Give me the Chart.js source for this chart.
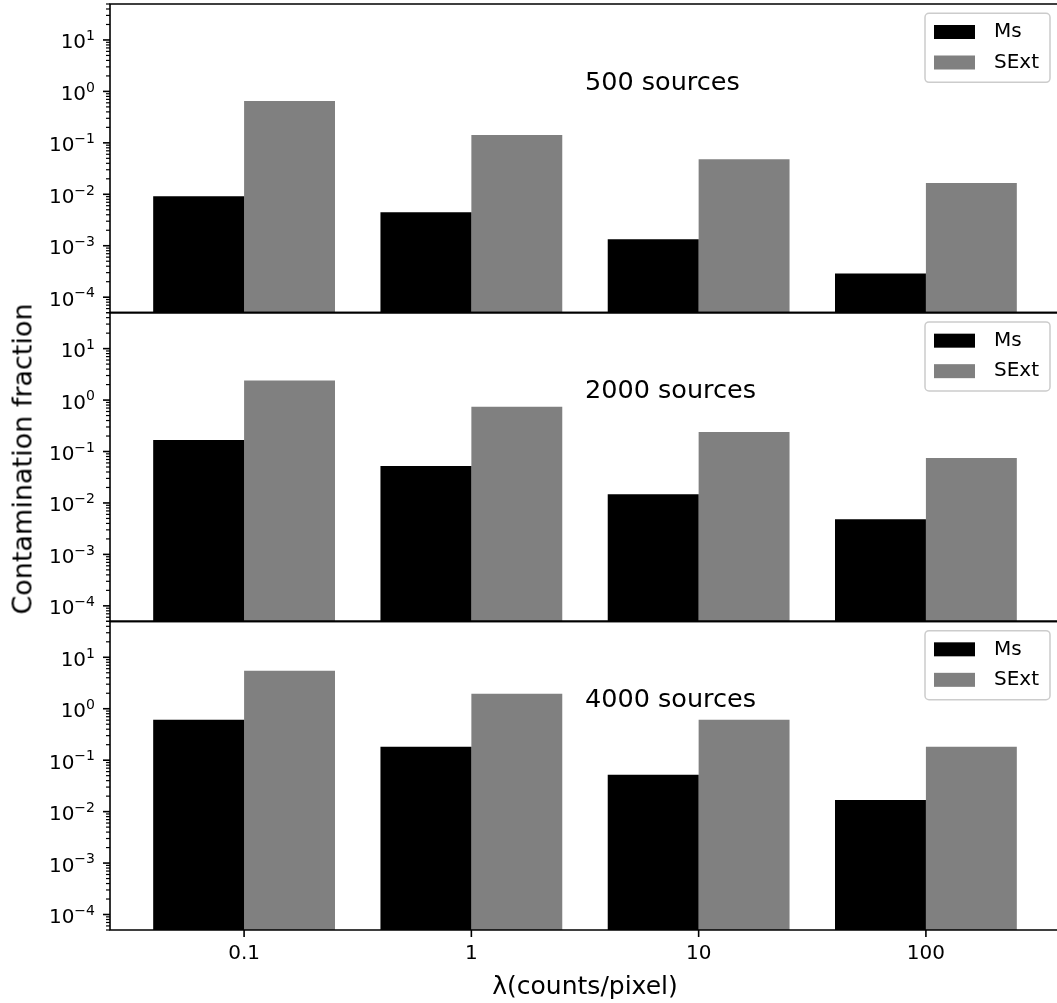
<!DOCTYPE html>
<html lang="en">
<head>
<meta charset="UTF-8">
<title>Contamination fraction</title>
<script src="https://cdn.jsdelivr.net/npm/chart.js"></script>
<style>
  body { margin: 0; background: #fff; font-family: "DejaVu Sans", sans-serif; }
  #figure { position: relative; width: 1057px; height: 1003px; overflow: hidden; }
  #figure canvas { position: absolute; left: 0; }
  #ylabel {
    position: absolute; left: 22px; top: 459px;
    transform: translate(-50%, -50%) rotate(-90deg);
    font-size: 27px; white-space: nowrap; color: #000;
  }
</style>
</head>
<body>
<div id="figure">
  <canvas id="panel0" width="1060" height="353" style="top:-18px"></canvas>
  <canvas id="panel1" width="1060" height="354" style="top:290px"></canvas>
  <canvas id="panel2" width="1060" height="404" style="top:599px"></canvas>
  <div id="ylabel">Contamination fraction</div>
</div>

<script>
// lambda values along the x axis
const lambdaLabels = ['0.1', '1', '10', '100'];
const seriesNames = ['Ms', 'SExt'];
const seriesColors = ['#000000', '#808080'];
const panelTitles = ['500 sources', '2000 sources', '4000 sources'];

// contamination fraction per lambda
const ms500 = [0.0092, 0.0045, 0.00134, 0.00029];
const sext500 = [0.65, 0.142, 0.048, 0.0165];
const ms2000 = [0.168, 0.052, 0.0147, 0.0048];
const sext2000 = [2.4, 0.74, 0.24, 0.075];
const ms4000 = [0.61, 0.182, 0.052, 0.0168];
const sext4000 = [5.5, 1.96, 0.61, 0.182];

// log axis decades; labels are drawn as 10 with a raised exponent
const yDecades = [-4, -3, -2, -1, 0, 1];
const yTickBase = '10';
const yTickExponents = ['−4', '−3', '−2', '−1', '0', '1'];
const yMin = 5e-5, yMax = 50;

const panelSeries = [[ms500, sext500], [ms2000, sext2000], [ms4000, sext4000]];

// canvas padding around each plot area: [top, bottom]
const panelPadding = [[22, 22.33], [22.67, 22.67], [22.33, 0]];

Chart.defaults.font.family = '"DejaVu Sans", sans-serif';
Chart.defaults.color = '#000';

// spines, tick marks, y labels, boxed legend and the panel caption
const panelDecor = {
  id: 'panelDecor',
  afterDatasetsDraw(chart, args, opts) {
    const { ctx, chartArea: a, scales: { x, y } } = chart;
    ctx.save();
    ctx.strokeStyle = '#000';
    ctx.lineWidth = 1.6;
    ctx.beginPath();
    ctx.moveTo(a.right, a.top); ctx.lineTo(a.left, a.top);
    ctx.lineTo(a.left, a.bottom); ctx.lineTo(a.right, a.bottom);
    ctx.stroke();

    y.ticks.forEach(t => {
      const py = y.getPixelForValue(t.value);
      const len = t.major ? 7 : 4;
      ctx.lineWidth = t.major ? 1.6 : 1.2;
      ctx.beginPath();
      ctx.moveTo(a.left - len, py); ctx.lineTo(a.left, py);
      ctx.stroke();
    });

    // decade labels, right aligned against the ticks
    ctx.fillStyle = '#000';
    ctx.textBaseline = 'alphabetic';
    ctx.textAlign = 'left';
    yDecades.forEach((e, i) => {
      const py = y.getPixelForValue(Math.pow(10, e));
      const exp = yTickExponents[i];
      ctx.font = '14px "DejaVu Sans"';
      const we = ctx.measureText(exp).width;
      ctx.font = '20px "DejaVu Sans"';
      const wb = ctx.measureText(yTickBase).width;
      const x0 = a.left - 15 - we - wb;
      ctx.fillText(yTickBase, x0, py + 8.5);
      ctx.font = '14px "DejaVu Sans"';
      ctx.fillText(exp, x0 + wb, py + 0.3);
    });

    if (opts.xTicks) {
      ctx.lineWidth = 1.6;
      x.ticks.forEach(t => {
        const px = x.getPixelForValue(t.value);
        ctx.beginPath();
        ctx.moveTo(px, a.bottom); ctx.lineTo(px, a.bottom + 7);
        ctx.stroke();
      });
    }

    // legend box in the upper right corner
    const w = 125, h = 69;
    const lx = a.right - 10 - w, ly = a.top + 9.3;
    ctx.beginPath();
    ctx.roundRect(lx, ly, w, h, 4);
    ctx.fillStyle = 'rgba(255,255,255,0.8)';
    ctx.fill();
    ctx.strokeStyle = '#cccccc';
    ctx.lineWidth = 1.5;
    ctx.stroke();
    ctx.font = '20px "DejaVu Sans"';
    ctx.textBaseline = 'middle';
    chart.data.datasets.forEach((ds, i) => {
      const cy = ly + 18.7 + i * 30.5;
      ctx.fillStyle = ds.backgroundColor;
      ctx.fillRect(lx + 9, cy - 7, 41, 14);
      ctx.fillStyle = '#000';
      ctx.fillText(ds.label, lx + 69, cy);
    });

    ctx.font = '25.5px "DejaVu Sans"';
    ctx.fillText(opts.caption, a.left + 0.5 * (a.right - a.left), a.top + 79);
    ctx.restore();
  }
};

function buildPanel(k) {
  const isBottom = k === panelSeries.length - 1;

  const datasets = panelSeries[k].map((vals, s) => ({
    label: seriesNames[s],
    data: vals.map((v, i) => ({ x: i, y: v })),
    backgroundColor: seriesColors[s],
    borderWidth: 0,
    categoryPercentage: 0.8,
    barPercentage: 1.0
  }));

  const xScale = {
    type: 'linear',
    min: -0.59,
    max: 3.59,
    offset: false,
    bounds: 'data',
    display: isBottom,
    grid: { display: false, drawTicks: true, tickLength: 7, offset: false },
    border: { display: false },
    afterBuildTicks: scale => {
      scale.ticks = lambdaLabels.map((_, i) => ({ value: i }));
    },
    ticks: {
      autoSkip: false,
      includeBounds: false,
      maxRotation: 0,
      padding: 5,
      font: { size: 20 },
      callback: value => lambdaLabels[value]
    },
    title: {
      display: true,
      text: 'λ(counts/pixel)',
      font: { size: 25 },
      padding: { top: 0, bottom: 1 }
    }
  };
  if (isBottom) xScale.afterFit = scale => { scale.height = 73; };

  new Chart(document.getElementById('panel' + k), {
    type: 'bar',
    data: { datasets },
    options: {
      responsive: false,
      animation: false,
      layout: { padding: { top: panelPadding[k][0], bottom: panelPadding[k][1], left: 0, right: 0 } },
      plugins: {
        legend: { display: false },
        tooltip: { enabled: false },
        panelDecor: { caption: panelTitles[k], xTicks: isBottom }
      },
      scales: {
        x: xScale,
        y: {
          type: 'logarithmic',
          min: yMin,
          max: yMax,
          grid: { display: false },
          border: { display: false },
          afterFit: scale => { scale.width = 110; },
          afterBuildTicks: scale => {
            const ticks = [];
            for (let e = yDecades[0] - 1; e <= yDecades[yDecades.length - 1]; e++) {
              for (let m = 1; m <= 9; m++) {
                const v = m * Math.pow(10, e);
                if (v >= yMin && v <= yMax) ticks.push({ value: v, major: m === 1 });
              }
            }
            scale.ticks = ticks;
          },
          ticks: { display: false, autoSkip: false }
        }
      }
    },
    plugins: [panelDecor]
  });
}

panelSeries.forEach((_, k) => buildPanel(k));
</script>
</body>
</html>
